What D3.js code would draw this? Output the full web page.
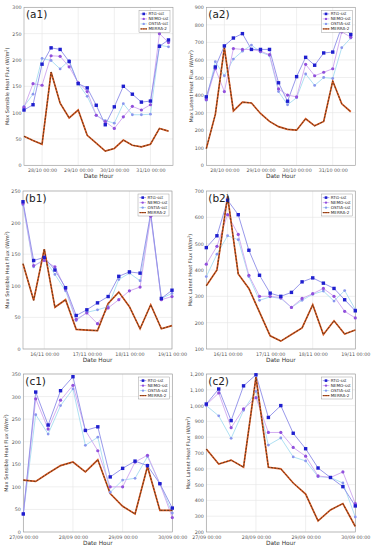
<!DOCTYPE html>
<html>
<head>
<meta charset="utf-8">
<script src="https://cdn.jsdelivr.net/npm/d3@7"></script>
<style>
  body { margin: 0; background: #fff; }
  svg { font-family: "DejaVu Sans", sans-serif; }
</style>
</head>
<body>
<div id="chart"></div>
<script>
// time steps (6-hourly) for each case
const timesA = d3.timeHours(new Date(2019, 9, 27, 12), new Date(2019, 9, 31, 13), 6);
const timesB = d3.timeHours(new Date(2019, 10, 15, 12), new Date(2019, 10, 19, 1), 6);
const timesC = d3.timeHours(new Date(2019, 8, 27, 0), new Date(2019, 8, 30, 1), 6);

// tick labels
const ticksA = [new Date(2019, 9, 28), new Date(2019, 9, 29), new Date(2019, 9, 30), new Date(2019, 9, 31)];
const ticksB = [new Date(2019, 10, 16), new Date(2019, 10, 17), new Date(2019, 10, 18), new Date(2019, 10, 19)];
const ticksC = [new Date(2019, 8, 27), new Date(2019, 8, 28), new Date(2019, 8, 29), new Date(2019, 8, 30)];

// (a1) sensible
const a1Rtg   = [105, 115, 192, 223, 220, 197, 155, 147, 114, 77, 111, 150, 135, 120, 122, 226, 238];
const a1Nemo  = [110, 155, 152, 208, 207, 187, 157, 140, 95, 83, 70, 92, 112, 105, 115, 250, 233];
const a1Ostia = [112, 135, 203, 199, 183, 199, 155, 131, 95, 85, 80, 117, 96, 96, 97, 228, 225];
const a1Merra = [55, 47, 40, 177, 118, 90, 105, 57, 42, 27, 32, 48, 38, 35, 40, 70, 65];
// (a2) latent
const a2Rtg   = [390, 560, 680, 725, 750, 660, 660, 660, 470, 365, 505, 615, 570, 640, 645, 790, 745];
const a2Nemo  = [375, 550, 420, 665, 660, 660, 650, 630, 435, 400, 390, 575, 510, 530, 550, 760, 730];
const a2Ostia = [370, 590, 510, 605, 650, 685, 645, 625, 420, 345, 385, 520, 455, 500, 495, 670, 725];
const a2Merra = [95, 290, 670, 310, 360, 355, 295, 250, 220, 205, 200, 265, 225, 250, 480, 350, 305];
// (b1) sensible
const b1Rtg   = [233, 140, 145, 125, 97, 53, 62, 73, 83, 115, 122, 120, 215, 80, 93];
const b1Nemo  = [230, 132, 140, 130, 95, 47, 57, 40, 65, 78, 92, 98, 210, 78, 83];
const b1Ostia = [228, 130, 143, 118, 92, 45, 58, 62, 67, 110, 120, 108, 212, 80, 88];
const b1Merra = [135, 77, 158, 66, 78, 31, 30, 29, 72, 90, 67, 32, 70, 32, 37];
// (b2) latent
const b2Rtg   = [485, 530, 665, 610, 475, 380, 312, 300, 315, 355, 370, 350, 330, 287, 245];
const b2Nemo  = [422, 490, 610, 535, 380, 300, 300, 295, 258, 292, 310, 330, 300, 243, 218];
const b2Ostia = [375, 460, 530, 515, 375, 285, 298, 292, 258, 285, 308, 320, 282, 322, 250];
const b2Merra = [340, 400, 680, 385, 330, 240, 150, 130, 155, 180, 268, 155, 207, 157, 172];
// (c1) sensible
const c1Rtg   = [40, 310, 237, 313, 344, 225, 233, 122, 141, 157, 147, 107, 53];
const c1Nemo  = [40, 295, 228, 292, 325, 225, 180, 100, 100, 155, 170, 107, 32];
const c1Ostia = [40, 260, 217, 280, 317, 192, 210, 88, 115, 119, 167, 107, 42];
const c1Merra = [115, 112, 130, 147, 155, 133, 160, 85, 57, 40, 145, 48, 48];
// (c2) latent
const c2Rtg   = [1010, 1105, 905, 1125, 1195, 925, 1000, 825, 727, 605, 545, 487, 365];
const c2Nemo  = [1005, 1080, 860, 980, 1050, 830, 830, 735, 680, 555, 545, 580, 380];
const c2Ostia = [1000, 935, 793, 970, 1090, 750, 795, 675, 650, 550, 545, 510, 295];
const c2Merra = [725, 630, 655, 610, 1180, 610, 600, 510, 440, 270, 340, 380, 235];

const seriesNames = ["RTG-sst", "NEMO-sst", "OSTIA-sst", "MERRA-2"];

const style = {
  "RTG-sst":   { line: "#8d8de8", marker: "#1f1fcf", shape: "square" },
  "NEMO-sst":  { line: "#cfa6ef", marker: "#9150dc", shape: "circle" },
  "OSTIA-sst": { line: "#a6dcf0", marker: "#8a96ee", shape: "circle" }
};

const W = 377, H = 550, pw = 149, ph = 158;
const sens = "Max Sensible Heat Flux (W/m", lat = "Max Latent Heat Flux (W/m";

const panels = [
  { label: "(a1)", left: 24, top: 7.3, times: timesA, xEnd: new Date(2019, 9, 31, 15), ticks: ticksA,
    y: [0, 300], step: 50, ylab: sens, yx: 9, data: [a1Rtg, a1Nemo, a1Ostia, a1Merra] },
  { label: "(a2)", left: 206.3, top: 7.3, times: timesA, xEnd: new Date(2019, 9, 31, 15), ticks: ticksA,
    y: [0, 900], step: 100, ylab: lat, yx: 193, data: [a2Rtg, a2Nemo, a2Ostia, a2Merra] },
  { label: "(b1)", left: 23, top: 191, times: timesB, xEnd: new Date(2019, 10, 19), ticks: ticksB,
    y: [0, 250], step: 50, ylab: sens, yx: 8.5, data: [b1Rtg, b1Nemo, b1Ostia, b1Merra] },
  { label: "(b2)", left: 206.3, top: 191, times: timesB, xEnd: new Date(2019, 10, 19), ticks: ticksB,
    y: [100, 700], step: 100, ylab: lat, yx: 192, data: [b2Rtg, b2Nemo, b2Ostia, b2Merra] },
  { label: "(c1)", left: 23.3, top: 374, times: timesC, xEnd: new Date(2019, 8, 30), ticks: ticksC,
    y: [0, 350], step: 50, ylab: sens, yx: 7.5, data: [c1Rtg, c1Nemo, c1Ostia, c1Merra] },
  { label: "(c2)", left: 206.3, top: 374, times: timesC, xEnd: new Date(2019, 8, 30), ticks: ticksC,
    y: [200, 1200], step: 100, ylab: lat, yx: 190, data: [c2Rtg, c2Nemo, c2Ostia, c2Merra] }
];

const svg = d3.select("#chart").append("svg")
  .attr("width", W).attr("height", H);

const fmt = d3.timeFormat("%d/%m %H:%M");

panels.forEach(p => {
  const g = svg.append("g").attr("transform", `translate(${p.left},${p.top})`);
  const x = d3.scaleTime().domain([p.times[0], p.xEnd]).range([0, pw]);
  const y = d3.scaleLinear().domain(p.y).range([ph, 0]);
  const yt = d3.range(p.y[0], p.y[1] + 1, p.step);

  // grid
  g.append("g").selectAll("line").data(p.ticks).join("line")
    .attr("x1", d => x(d)).attr("x2", d => x(d)).attr("y1", 0).attr("y2", ph)
    .attr("stroke", "#e4e4e4").attr("stroke-width", 0.6);
  g.append("g").selectAll("line").data(yt).join("line")
    .attr("x1", 0).attr("x2", pw).attr("y1", d => y(d)).attr("y2", d => y(d))
    .attr("stroke", "#e4e4e4").attr("stroke-width", 0.6);

  // axes
  const xa = g.append("g").attr("transform", `translate(0,${ph})`)
    .call(d3.axisBottom(x).tickValues(p.ticks).tickFormat(fmt).tickSize(0).tickPadding(3.5));
  const ya = g.append("g")
    .call(d3.axisLeft(y).tickValues(yt).tickSize(0).tickPadding(2.5));
  [xa, ya].forEach(a => {
    a.select(".domain").remove();
    a.selectAll("text").attr("font-size", 4.8).attr("fill", "#555").attr("font-family", "DejaVu Sans");
  });

  // border
  g.append("rect").attr("width", pw).attr("height", ph)
    .attr("fill", "none").attr("stroke", "#9a9a9a").attr("stroke-width", 0.6);

  // series lines
  const line = vals => d3.line().x((d, i) => x(p.times[i])).y(d => y(d))(vals);
  [2, 1, 0].forEach(k => {
    g.append("path").attr("d", line(p.data[k])).attr("fill", "none")
      .attr("stroke", style[seriesNames[k]].line).attr("stroke-width", 0.9);
  });
  // MERRA-2 dashed line
  g.append("path").attr("d", line(p.data[3])).attr("fill", "none")
    .attr("stroke", "#d9561f").attr("stroke-width", 1.7);
  g.append("path").attr("d", line(p.data[3])).attr("fill", "none")
    .attr("stroke", "#5c3b1e").attr("stroke-width", 1.0).attr("stroke-dasharray", "2,1.4");

  // markers
  [2, 1, 0].forEach(k => {
    const s = style[seriesNames[k]];
    const mg = g.append("g");
    if (s.shape === "square") {
      mg.selectAll("rect").data(p.data[k]).join("rect")
        .attr("x", (d, i) => x(p.times[i]) - 1.7).attr("y", d => y(d) - 1.7)
        .attr("width", 3.4).attr("height", 3.4).attr("fill", s.marker);
    } else {
      mg.selectAll("circle").data(p.data[k]).join("circle")
        .attr("cx", (d, i) => x(p.times[i])).attr("cy", d => y(d))
        .attr("r", k === 1 ? 1.6 : 1.4).attr("fill", s.marker);
    }
  });

  // panel label
  g.append("text").attr("x", 2).attr("y", 11).attr("font-size", 10.5)
    .attr("fill", "#222").text(p.label);

  // legend
  const lg = g.append("g").attr("transform", `translate(${pw - 34},3)`);
  lg.append("rect").attr("width", 31).attr("height", 22)
    .attr("fill", "#fff").attr("stroke", "#888").attr("stroke-width", 0.4);
  seriesNames.forEach((n, i) => {
    const yy = 3.6 + i * 5;
    if (i < 3) {
      lg.append("line").attr("x1", 1.5).attr("x2", 8).attr("y1", yy).attr("y2", yy)
        .attr("stroke", style[n].line).attr("stroke-width", 0.8);
      if (style[n].shape === "square")
        lg.append("rect").attr("x", 3.4).attr("y", yy - 1.3).attr("width", 2.6).attr("height", 2.6).attr("fill", style[n].marker);
      else
        lg.append("circle").attr("cx", 4.7).attr("cy", yy).attr("r", 1.2).attr("fill", style[n].marker);
    } else {
      lg.append("line").attr("x1", 1.5).attr("x2", 8).attr("y1", yy).attr("y2", yy)
        .attr("stroke", "#d9561f").attr("stroke-width", 1.2);
      lg.append("line").attr("x1", 1.5).attr("x2", 8).attr("y1", yy).attr("y2", yy)
        .attr("stroke", "#5c3b1e").attr("stroke-width", 0.8).attr("stroke-dasharray", "1.6,0.9");
    }
    lg.append("text").attr("x", 9.5).attr("y", yy + 1.4).attr("font-size", 4.1)
      .attr("fill", "#222").text(n);
  });

  // axis titles
  svg.append("text").attr("x", p.left + pw / 2).attr("y", p.top + ph + 12.5)
    .attr("text-anchor", "middle").attr("font-size", 5.8).attr("fill", "#333").text("Date Hour");
  const yl = svg.append("text")
    .attr("transform", `translate(${p.yx},${p.top + ph / 2}) rotate(-90)`)
    .attr("text-anchor", "middle").attr("font-size", 5).attr("fill", "#333");
  yl.append("tspan").text(p.ylab);
  yl.append("tspan").attr("dy", -1.6).attr("font-size", 3.4).text("2");
  yl.append("tspan").attr("dy", 1.6).text(")");
});
</script>
</body>
</html>
